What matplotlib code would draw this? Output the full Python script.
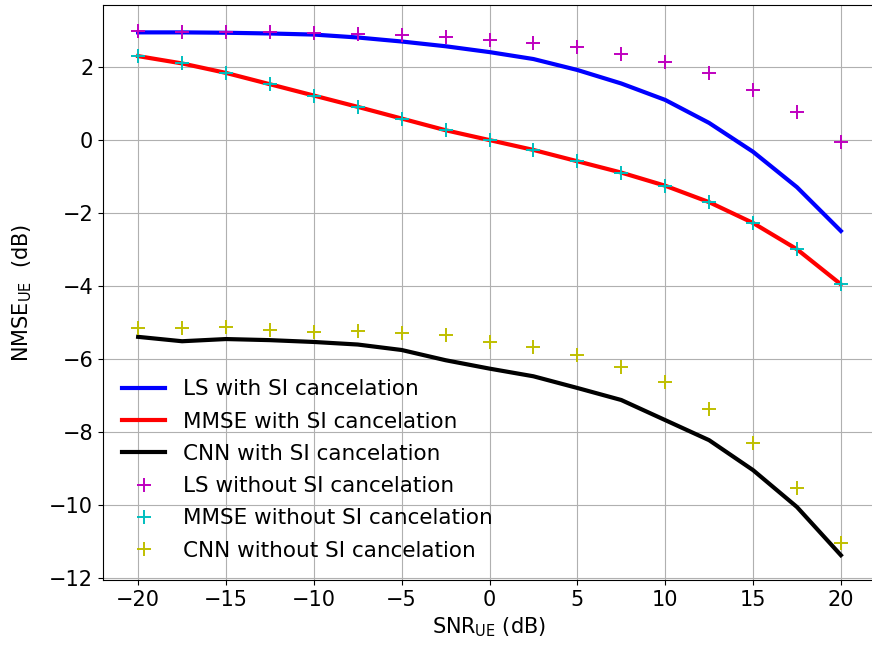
import matplotlib
matplotlib.use("Agg")
import matplotlib.pyplot as plt
import numpy as np

snr = [-20, -17.5, -15, -12.5, -10, -7.5, -5, -2.5, 0, 2.5, 5, 7.5, 10, 12.5, 15, 17.5, 20]

ls_si = [2.95, 2.95, 2.94, 2.92, 2.89, 2.81, 2.70, 2.57, 2.41, 2.22, 1.92, 1.55, 1.10, 0.47, -0.32, -1.29, -2.49]
mmse_si = [2.30, 2.10, 1.84, 1.53, 1.22, 0.91, 0.59, 0.27, 0.0, -0.27, -0.58, -0.89, -1.25, -1.70, -2.27, -2.99, -3.95]
cnn_si = [-5.39, -5.51, -5.45, -5.48, -5.53, -5.60, -5.75, -6.03, -6.26, -6.47, -6.79, -7.12, -7.67, -8.22, -9.04, -10.05, -11.37]

ls_nosi = [2.99, 2.97, 2.96, 2.95, 2.93, 2.91, 2.88, 2.81, 2.75, 2.65, 2.54, 2.37, 2.14, 1.83, 1.37, 0.77, -0.06]
mmse_nosi = [2.30, 2.10, 1.84, 1.53, 1.22, 0.91, 0.59, 0.27, 0.0, -0.27, -0.58, -0.89, -1.25, -1.70, -2.27, -2.99, -3.95]
cnn_nosi = [-5.14, -5.14, -5.13, -5.21, -5.25, -5.23, -5.29, -5.34, -5.53, -5.66, -5.89, -6.21, -6.64, -7.37, -8.31, -9.53, -11.05]

labels = ["LS with SI cancelation", "MMSE with SI cancelation", "CNN with SI cancelation",
          "LS without SI cancelation", "MMSE without SI cancelation", "CNN without SI cancelation"]

fig = plt.figure(figsize=(8.72, 6.52), dpi=100)
ax = fig.add_axes([103/872, 1-580/652, 773/872, 575/652])

ax.plot(snr, ls_si, color='b', lw=3, label=labels[0])
ax.plot(snr, mmse_si, color='r', lw=3, label=labels[1])
ax.plot(snr, cnn_si, color='k', lw=3, label=labels[2])
ax.plot(snr, ls_nosi, '+', color='m', ms=10, mew=1.4, label=labels[3])
ax.plot(snr, mmse_nosi, '+', color='c', ms=10, mew=1.4, label=labels[4])
ax.plot(snr, cnn_nosi, '+', color='y', ms=10, mew=1.4, label=labels[5])

ax.set_xlim(-22, 22)
ax.set_ylim(-12.05, 3.7)
ax.set_xticks([-20, -15, -10, -5, 0, 5, 10, 15, 20])
ax.set_yticks([-12, -10, -8, -6, -4, -2, 0, 2])
ax.tick_params(labelsize=15)
ax.grid(True)
ax.set_xlabel(r"SNR$_{\rm UE}$ (dB)", fontsize=15)
ax.set_ylabel(r"NMSE$_{\rm UE}$  (dB)", fontsize=15, labelpad=11)
ax.legend(loc='lower left', fontsize=15.5, frameon=False, handlelength=2.0, labelspacing=0.57)

fig.savefig("out.png", dpi=100)
